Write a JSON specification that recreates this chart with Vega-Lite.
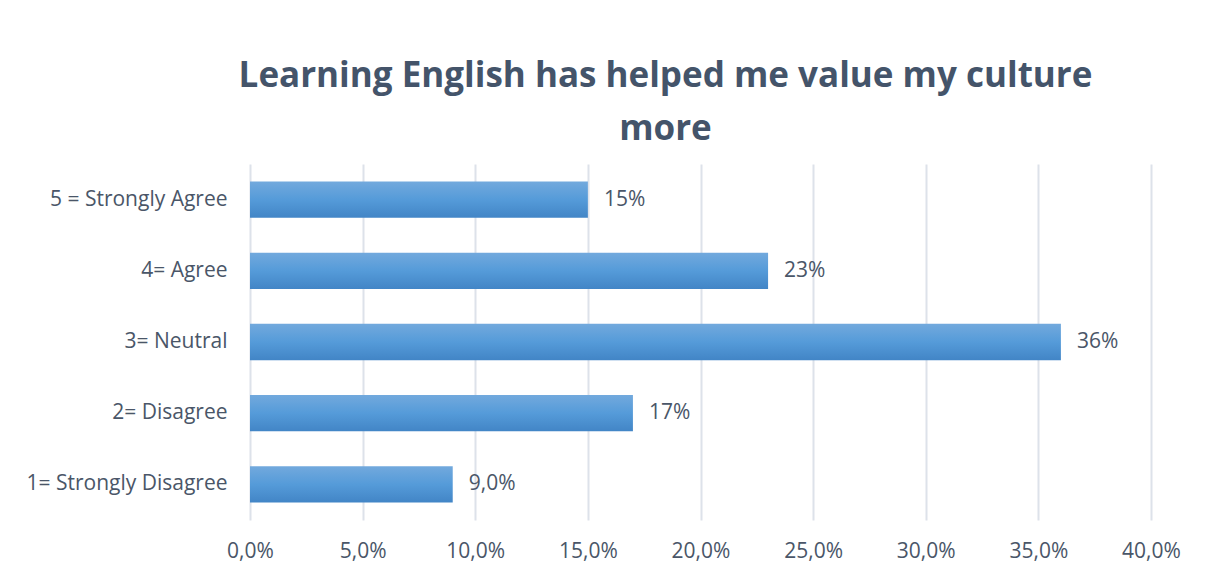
{
  "$schema": "https://vega.github.io/schema/vega-lite/v6.json",
  "width": 901,
  "height": 356,
  "autosize": {"type": "none"},
  "padding": {"left": 250, "top": 164, "right": 55, "bottom": 55},
  "background": "white",
  "title": {
    "text": ["Learning English has helped me value my culture", "more"],
    "font": "Open Sans",
    "fontSize": 35,
    "fontWeight": "bold",
    "color": "#44546A",
    "anchor": "middle",
    "dx": -35,
    "lineHeight": 53,
    "offset": 17
  },
  "data": {
    "values": [
      {"category": "5 = Strongly Agree\u2002", "value": 0.15, "label": "15%"},
      {"category": "4= Agree", "value": 0.23, "label": "23%"},
      {"category": "3= Neutral", "value": 0.36, "label": "36%"},
      {"category": "2= Disagree", "value": 0.17, "label": "17%"},
      {"category": "1= Strongly Disagree", "value": 0.09, "label": "9,0%"}
    ]
  },
  "encoding": {
    "y": {
      "field": "category",
      "type": "nominal",
      "sort": null,
      "scale": {"paddingInner": 0.49, "paddingOuter": 0.245},
      "axis": {
        "title": null,
        "domain": false,
        "ticks": false,
        "labelPadding": 23,
        "labelFont": "Open Sans",
        "labelFontSize": 21,
        "labelColor": "#4a5668",
        "labelLimit": 300,
        "grid": false
      }
    },
    "x": {
      "field": "value",
      "type": "quantitative",
      "scale": {"domain": [0, 0.4], "nice": false},
      "axis": {
        "title": null,
        "format": ".1%",
        "values": [0, 0.05, 0.1, 0.15, 0.2, 0.25, 0.3, 0.35, 0.4],
        "domain": false,
        "ticks": false,
        "labelFlush": false,
        "labelPadding": 20,
        "labelFont": "Open Sans",
        "labelFontSize": 21,
        "labelColor": "#4a5668",
        "grid": true,
        "gridColor": "#dde2ea",
        "gridWidth": 2
      }
    }
  },
  "layer": [
    {
      "mark": {
        "type": "bar",
        "color": {
          "gradient": "linear",
          "x1": 0, "y1": 0, "x2": 0, "y2": 1,
          "stops": [
            {"offset": 0, "color": "#72a9dd"},
            {"offset": 0.5, "color": "#559bd9"},
            {"offset": 1, "color": "#4285c6"}
          ]
        }
      }
    },
    {
      "mark": {
        "type": "text",
        "align": "left",
        "dx": 16,
        "font": "Open Sans",
        "fontSize": 21,
        "color": "#4a5668"
      },
      "encoding": {"text": {"field": "label"}}
    }
  ],
  "config": {
    "view": {"stroke": null},
    "locale": {
      "number": {
        "decimal": ",",
        "thousands": ".",
        "grouping": [3],
        "currency": ["", " €"]
      }
    }
  }
}
